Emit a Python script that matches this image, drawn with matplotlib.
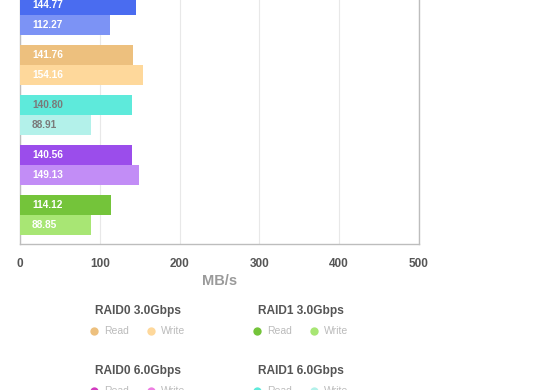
import matplotlib

matplotlib.use("Agg")
import matplotlib.pyplot as plt
from matplotlib.lines import Line2D

plt.rcParams["font.family"] = ["Liberation Sans", "DejaVu Sans"]

# data, top group first
groups = ["blue", "RAID0 3.0Gbps", "RAID1 6.0Gbps", "purple", "RAID1 3.0Gbps"]
read_vals = [144.77, 141.76, 140.80, 140.56, 114.12]
write_vals = [112.27, 154.16, 88.91, 149.13, 88.85]
read_colors = ["#4a6cf0", "#edc07e", "#5eeadb", "#9b4deb", "#74c43a"]
write_colors = ["#7c93f5", "#fed89b", "#b3f1ea", "#c28df6", "#a8e674"]
label_colors = ["white", "white", "#7a7a7a", "white", "white"]
x_ticks = [0, 100, 200, 300, 400, 500]

legend_groups = ["RAID0 3.0Gbps", "RAID1 3.0Gbps", "RAID0 6.0Gbps", "RAID1 6.0Gbps"]
legend_colors = [
    ("#edc07e", "#fed89b"),
    ("#74c43a", "#a8e674"),
    ("#d23cc0", "#ee7fe2"),
    ("#5eeadb", "#b3f1ea"),
]

W, H = 560, 390
fig = plt.figure(figsize=(W / 100, H / 100), dpi=100)

# axes box in pixels: left 20, right 420, bottom 244, top above the figure
ax_top_px = -30
ax = fig.add_axes([20 / W, 1 - 244 / H, 399 / W, (244 - ax_top_px) / H])

n = len(groups)
centers = [n - 1 - i for i in range(n)]
bar_h = 0.4
ax.barh([c + bar_h / 2 for c in centers], read_vals, height=bar_h, color=read_colors, zorder=3)
ax.barh([c - bar_h / 2 for c in centers], write_vals, height=bar_h, color=write_colors, zorder=3)

for c, r, w, lc in zip(centers, read_vals, write_vals, label_colors):
    ax.text(15, c + bar_h / 2, f"{r:.2f}", color=lc, fontsize=7.3, fontweight="bold",
            va="center", ha="left", zorder=4)
    ax.text(15, c - bar_h / 2, f"{w:.2f}", color=lc, fontsize=7.3, fontweight="bold",
            va="center", ha="left", zorder=4)

ax.set_xlim(0, 500)
ax.set_ylim(-0.58, (n - 1) + (15 - ax_top_px) / 50)
ax.set_xticks(x_ticks)
ax.set_xticklabels([str(t) for t in x_ticks], fontsize=8.5, fontweight="bold", color="#555555")
ax.set_yticks([])
ax.tick_params(axis="x", length=0, pad=10)
ax.grid(axis="x", color="#e8e8e8", linewidth=0.8, zorder=0)
for side in ("left", "bottom", "right"):
    ax.spines[side].set_color("#bdbdbd")
    ax.spines[side].set_linewidth(1)
ax.spines["top"].set_visible(False)
ax.set_xlabel("MB/s", fontsize=10.5, fontweight="bold", color="#9a9a9a", labelpad=3)


def px(x, y):
    return x / W, 1 - y / H


title_pos = [(138, 311), (301, 311), (138, 371), (301, 371)]
for name, (tx, ty), (c_read, c_write) in zip(legend_groups, title_pos, legend_colors):
    fig.text(*px(tx, ty), name, ha="center", va="center", fontsize=8.6,
             fontweight="bold", color="#555555")
    x0 = tx - 44
    y0 = ty + 20
    for dx, col, lab in ((0, c_read, "Read"), (57, c_write, "Write")):
        fx, fy = px(x0 + dx, y0)
        fig.add_artist(Line2D([fx], [fy], marker="o", markersize=6, color=col,
                              markeredgewidth=0, transform=fig.transFigure))
        fig.text(*px(x0 + dx + 10, y0), lab, ha="left", va="center",
                 fontsize=7.5, color="#bbbbbb")

fig.savefig("out.png", dpi=100)
